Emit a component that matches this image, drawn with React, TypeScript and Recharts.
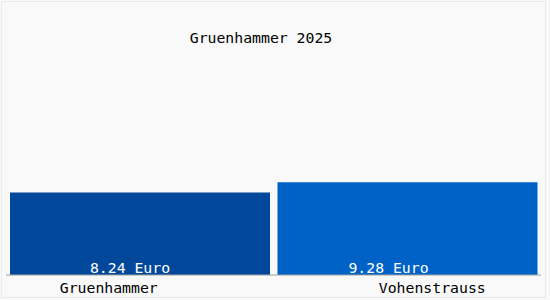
import React from 'react';
import { BarChart, Bar, XAxis, YAxis, Cell, LabelList } from 'recharts';

const places = ['Gruenhammer', 'Vohenstrauss'];
const prices = [8.24, 9.28];
const barColors = ['#02489a', '#0062c6'];
const title = 'Gruenhammer 2025';

const chartData = places.map((name, i) => ({ name, price: prices[i] }));

const FONT = '"DejaVu Sans Mono", "Liberation Mono", monospace';

// the original puts its texts a bit off the bar centres
const labelShift = [-10, -19];
const tickShift = [-31, 25];

const PriceLabel = (props: any) => {
  const { x, y, width, height, value, index } = props;
  return (
    <text
      x={x + width / 2 + labelShift[index]}
      y={y + height - 2}
      fill="#ffffff"
      fontSize={14.8}
      fontFamily={FONT}
      textAnchor="middle"
    >
      {`${Number(value).toFixed(2)} Euro`}
    </text>
  );
};

const PlaceTick = (props: any) => {
  const { x, y, payload, index } = props;
  return (
    <text x={x + tickShift[index]} y={y + 10} fill="#000" fontSize={14.8} fontFamily={FONT} textAnchor="middle">
      {payload.value}
    </text>
  );
};

export default function App() {
  return (
    <div style={{ position: 'absolute', left: 0, top: 0, width: 550, height: 300, background: '#f9f9f9' }}>
      <div
        style={{
          position: 'absolute',
          left: 1,
          top: 1,
          width: 545,
          height: 297,
          border: '1px solid #ebebeb',
          boxSizing: 'border-box',
        }}
      />
      <div
        style={{
          position: 'absolute',
          left: 0,
          top: 29,
          width: 522,
          textAlign: 'center',
          fontFamily: FONT,
          fontSize: 14.8,
          color: '#000',
        }}
      >
        {title}
      </div>
      <BarChart
        width={550}
        height={300}
        data={chartData}
        margin={{ top: 75, right: 9, bottom: 0, left: 6 }}
        barCategoryGap={4}
        style={{ position: 'absolute', left: 0, top: 0 }}
      >
        <XAxis
          dataKey="name"
          height={25}
          axisLine={{ stroke: '#a0a0a0' }}
          tickLine={false}
          tick={<PlaceTick />}
          interval={0}
        />
        <YAxis hide domain={[0, 20]} />
        <Bar dataKey="price" isAnimationActive={false}>
          {chartData.map((d, i) => (
            <Cell key={d.name} fill={barColors[i]} />
          ))}
          <LabelList dataKey="price" content={<PriceLabel />} />
        </Bar>
      </BarChart>
    </div>
  );
}
